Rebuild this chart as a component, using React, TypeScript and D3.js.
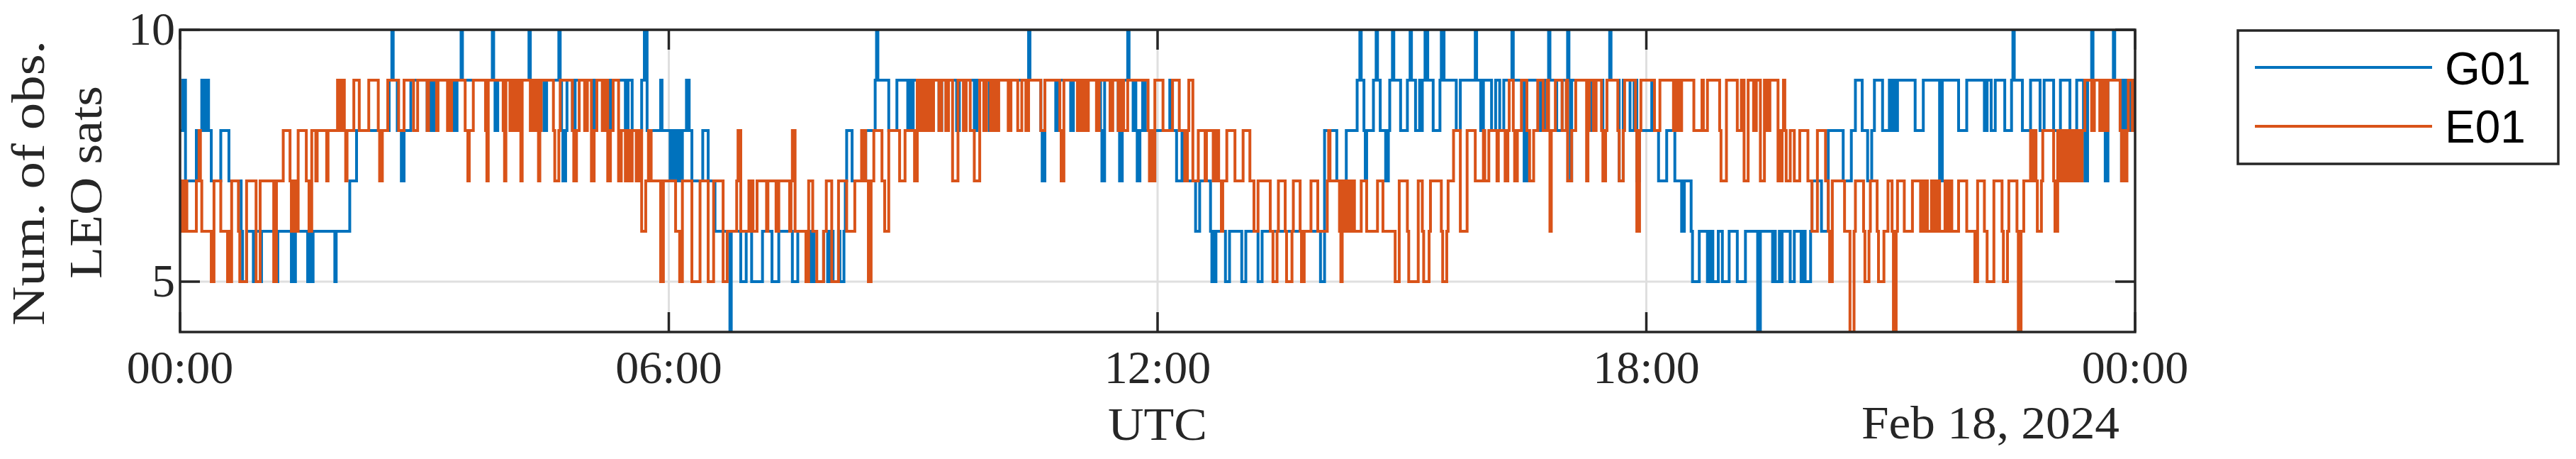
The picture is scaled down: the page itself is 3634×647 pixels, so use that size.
import React from 'react';
import * as d3 from 'd3';

const W = 3634;
const H = 647;

const timeTicks = [0, 360, 720, 1080, 1440];
const timeTickLabels = ['00:00', '06:00', '12:00', '18:00', '00:00'];
const yTicks = [5, 10];
const yTickLabels = ['5', '10'];
const seriesNames = ['G01', 'E01'];
const seriesColors = ['#0072BD', '#D95319'];
const xLabel = 'UTC';
const dateLabel = 'Feb 18, 2024';
const yLabelLines = ['Num. of obs.', 'LEO sats'];

// [minute of day, number of observed LEO satellites]
const g01: number[][] = [
  [0,8],[2,9],[4,7],[12,8],[13,7],[14,8],[16,9],[18,8],[19,9],[21,8],[23,7],[30,8],[36,7],[45,6],[46,5],[49,6],[54,5],[55,6],[59,5],[60,6],[71,5],[72,6],[82,5],[83,6],[84,5],[85,6],[94,5],[95,6],[97,5],[98,6],[114,5],[115,6],[125,7],[130,8],[154,9],[156,10],[157,9],[160,8],[163,7],[165,8],[170,9],[182,8],[183,9],[185,8],[186,9],[188,8],[189,9],[202,8],[204,9],[207,10],[208,9],[230,10],[231,9],[232,8],[234,9],[257,10],[258,9],[268,8],[270,9],[279,10],[280,9],[281,8],[282,7],[284,8],[285,9],
  [289,8],[291,9],[304,8],[306,9],[316,8],[318,9],[328,8],[330,9],[333,8],[340,9],[342,10],[344,8],[354,9],[355,8],[361,7],[362,8],[364,7],[366,8],[368,7],[370,8],[373,9],[375,8],[377,7],[385,8],[389,7],[394,6],[405,4],[406,6],[413,5],[417,6],[421,5],[429,6],[436,5],[441,6],[451,5],[455,6],[463,5],[465,6],[467,5],[474,6],[477,5],[479,6],[481,5],[485,6],[486,5],[489,6],[490,7],[491,8],[495,7],[505,8],[512,9],[513,10],[514,9],[522,8],[528,9],[536,8],[537,9],[538,8],[540,9],[546,8],[552,9],[559,8],[561,9],[572,8],[574,9],[585,8],[587,9],[596,8],
  [599,9],[601,8],[602,9],[625,10],[626,9],[634,8],[635,7],[637,9],[645,8],[647,9],[656,8],[658,9],[678,8],[679,7],[681,9],[691,8],[692,7],[694,9],[698,10],[699,9],[702,8],[703,9],[704,8],[705,7],[707,8],[709,9],[711,8],[715,7],[718,8],[729,9],[731,8],[734,7],[738,8],[740,7],[748,6],[751,7],[759,6],[760,5],[761,6],[762,5],[763,6],[770,5],[773,6],[782,5],[785,6],[794,5],[797,6],[840,5],[843,8],[852,7],[859,8],[867,9],[869,10],[870,9],[872,8],[873,7],[874,8],[879,9],[881,10],[882,9],[884,8],[888,7],[890,8],[891,9],[893,10],[894,9],[899,8],[904,9],[906,10],[907,9],[910,8],
  [913,9],[914,8],[915,9],[917,10],[919,9],[923,8],[928,9],[929,10],[931,9],[940,8],[943,9],[954,10],[955,9],[958,8],[960,9],[966,8],[969,9],[972,8],[975,9],[981,10],[982,9],[990,7],[992,9],[1002,8],[1005,9],[1008,10],[1009,9],[1014,8],[1018,9],[1022,10],[1023,9],[1024,7],[1025,9],[1039,8],[1042,9],[1048,8],[1051,9],[1053,10],[1054,9],[1060,7],[1063,9],[1068,8],[1071,9],[1073,7],[1075,8],[1084,9],[1086,8],[1089,7],[1095,8],[1101,7],[1106,6],[1108,7],[1113,6],[1114,5],[1119,6],[1125,5],[1127,6],[1129,5],[1133,6],[1136,5],[1141,6],[1147,5],[1153,6],[1162,4],[1164,6],[1173,5],[1174,6],[1175,5],
  [1178,6],[1179,5],[1180,6],[1186,5],[1189,6],[1194,5],[1196,6],[1197,5],[1201,6],[1202,7],[1209,6],[1214,8],[1225,7],[1231,8],[1234,9],[1239,8],[1243,7],[1246,8],[1248,9],[1254,8],[1259,9],[1261,8],[1262,9],[1263,8],[1265,9],[1278,8],[1284,9],[1296,7],[1298,9],[1310,8],[1316,9],[1329,8],[1331,9],[1334,8],[1337,9],[1344,8],[1349,9],[1350,10],[1351,9],[1357,8],[1363,9],[1370,8],[1373,9],[1380,8],[1385,9],[1392,8],[1397,9],[1402,8],[1403,7],[1405,9],[1408,10],[1409,9],[1417,8],[1418,7],[1420,9],[1424,10],[1425,9],[1429,8],[1430,7],[1431,9],[1433,8],[1434,9],[1435,8],[1437,9],
];

const e01: number[][] = [
  [0,7],[1,6],[2,7],[3,6],[4,7],[5,6],[12,7],[14,8],[15,7],[16,6],[23,5],[25,7],[30,6],[35,5],[36,6],[37,5],[38,7],[43,6],[44,5],[49,7],[56,5],[59,7],[69,5],[71,7],[76,8],[81,7],[82,6],[83,7],[84,6],[85,7],[86,6],[87,8],[93,7],[95,6],[97,8],[100,7],[101,8],[108,7],[109,8],[116,9],[117,8],[118,9],[119,8],[120,9],[121,8],[122,7],[123,8],[128,9],[132,8],[139,9],[146,8],[147,7],[149,8],[153,9],[161,8],[165,9],[172,8],[175,9],[182,8],[183,9],[189,8],[190,9],[197,8],[198,9],[199,8],[200,9],[210,8],[212,7],[213,8],[216,9],[225,8],[226,7],[227,9],[238,8],[239,7],[240,9],[243,8],[244,9],[246,8],[247,9],[249,8],[250,9],[251,7],[252,9],[258,8],[259,9],[261,8],[262,9],[264,7],[265,8],[266,9],[275,8],[276,7],[279,8],[280,9],
  [289,8],[290,7],[292,8],[294,9],[298,8],[300,9],[303,7],[305,8],[307,9],[311,8],[313,9],[315,7],[317,8],[319,9],[323,7],[325,8],[328,7],[330,8],[332,7],[333,8],[336,7],[338,8],[340,6],[343,7],[345,8],[347,7],[354,5],[356,7],[365,6],[368,5],[370,7],[377,5],[383,7],[389,5],[393,7],[400,5],[403,6],[410,7],[411,8],[413,6],[419,7],[420,6],[421,7],[422,6],[425,7],[432,6],[433,7],[439,6],[441,7],[449,6],[450,7],[451,8],[453,6],[461,5],[463,7],[466,6],[469,5],[474,6],[476,7],[480,5],[485,7],[491,6],[497,7],[502,8],[503,7],[504,8],[505,7],[507,5],[509,7],[511,8],[517,7],[519,6],[522,8],[530,7],[534,8],[541,7],[543,9],[545,8],[547,9],[549,8],[551,9],[553,8],[555,9],[559,8],[561,9],[564,8],[566,9],[569,7],[573,9],[577,8],[579,9],[582,8],[585,7],[589,9],[592,8],[594,9],[597,8],
  [599,9],[600,8],[601,9],[602,8],[603,9],[610,8],[612,9],[617,8],[620,9],[623,8],[625,9],[634,8],[637,9],[648,8],[649,7],[651,9],[661,8],[662,9],[664,8],[666,9],[668,8],[669,9],[675,8],[677,9],[685,8],[687,9],[691,8],[693,9],[695,8],[698,9],[713,8],[714,7],[716,8],[717,7],[718,9],[724,8],[731,9],[736,8],[740,7],[742,8],[743,9],[746,7],[750,8],[755,7],[756,8],[761,7],[762,8],[763,7],[764,8],[765,7],[767,6],[768,7],[771,8],[777,7],[783,8],[788,7],[791,6],[794,7],[803,6],[805,5],[808,6],[809,7],[814,6],[815,5],[819,6],[820,7],[825,6],[826,5],[828,6],[833,7],[838,6],[845,7],[846,8],[847,7],[854,6],[855,5],[856,7],[857,6],[858,7],[859,6],[860,7],[862,6],[863,7],[865,6],[870,7],[874,6],[882,7],[886,6],[895,5],[898,7],[904,6],[905,5],
  [912,7],[915,6],[916,5],[920,6],[921,7],[929,6],[930,5],[933,6],[934,7],[938,8],[943,6],[948,8],[954,7],[960,8],[961,7],[964,8],[970,7],[971,8],[976,7],[978,8],[979,9],[982,8],[983,7],[985,8],[988,9],[992,8],[994,7],[997,8],[1000,9],[1004,8],[1007,9],[1008,8],[1009,6],[1010,8],[1013,9],[1018,8],[1021,9],[1022,7],[1025,8],[1028,9],[1036,7],[1037,8],[1038,9],[1041,8],[1043,9],[1047,8],[1048,7],[1050,8],[1051,9],[1059,8],[1060,7],[1063,8],[1064,9],[1072,8],[1073,6],[1075,8],[1076,9],[1086,8],[1090,9],[1100,8],[1102,9],[1104,8],[1106,9],[1115,8],[1121,9],[1122,8],[1125,9],[1134,8],[1135,7],[1139,9],[1147,8],[1150,9],[1152,7],[1155,9],[1159,8],[1161,9],[1164,7],[1167,9],[1168,8],[1169,9],[1170,8],[1171,9],[1177,7],
  [1178,8],[1179,7],[1180,8],[1181,9],[1182,8],[1183,7],[1186,8],[1189,7],[1193,8],[1199,7],[1202,6],[1206,8],[1212,7],[1214,6],[1215,5],[1217,7],[1226,6],[1230,4],[1233,6],[1234,7],[1240,6],[1241,5],[1244,6],[1245,7],[1250,6],[1251,5],[1255,6],[1258,7],[1261,6],[1262,4],[1264,6],[1265,7],[1270,6],[1276,7],[1282,6],[1283,7],[1284,6],[1285,7],[1287,6],[1290,7],[1291,6],[1292,7],[1294,6],[1295,7],[1296,6],[1300,7],[1301,6],[1302,7],[1303,6],[1304,7],[1305,6],[1310,7],[1316,6],[1322,5],[1324,7],[1329,6],[1331,5],[1336,7],[1342,6],[1343,5],[1346,6],[1347,7],[1353,6],[1354,4],[1356,6],[1358,7],[1363,8],[1364,7],[1365,8],[1367,7],[1368,6],[1371,7],[1372,8],[1380,7],[1381,6],[1383,8],[1385,7],[1386,8],[1388,7],[1390,8],[1392,7],[1394,8],[1396,7],[1397,8],[1399,7],[1401,8],[1403,9],[1408,8],[1410,9],[1414,8],[1415,9],[1416,8],[1418,9],[1419,8],[1420,9],[1429,8],[1430,7],[1432,8],[1433,7],[1434,8],[1435,9],[1438,8],[1439,9],
];

const allSeries = [g01, e01];

export default function App() {
  const left = 254, right = 3012, top = 42, bottom = 468;
  const x = d3.scaleLinear().domain([0, 1440]).range([left, right]);
  const y = d3.scaleLinear().domain([4, 10]).range([bottom, top]);
  const line = d3
    .line<number[]>()
    .x((d) => x(d[0]))
    .y((d) => y(d[1]))
    .curve(d3.curveStepAfter);
  const extend = (s: number[][]) => [...s, [1440, s[s.length - 1][1]]];
  const axisColor = '#262626';
  const serif = '"Liberation Serif", "DejaVu Serif", serif';
  const sans = '"Liberation Sans", Arial, sans-serif';
  const tickLen = 28;
  const fs = 66;

  return (
    <svg
      width={W}
      height={H}
      viewBox={`0 0 ${W} ${H}`}
      style={{ position: 'absolute', left: 0, top: 0, background: '#fff' }}
    >
      <rect x={0} y={0} width={W} height={H} fill="#fff" />
      <defs>
        <clipPath id="plotclip">
          <rect x={left} y={top} width={right - left} height={bottom - top} />
        </clipPath>
      </defs>
      {/* grid */}
      <g stroke="#dfdfdf" strokeWidth={3}>
        {timeTicks.slice(1, -1).map((t, i) => (
          <line key={'gx' + i} x1={x(t)} x2={x(t)} y1={top} y2={bottom} />
        ))}
        {yTicks.map((v, i) => (
          <line key={'gy' + i} x1={left} x2={right} y1={y(v)} y2={y(v)} />
        ))}
      </g>
      {/* data */}
      <g clipPath="url(#plotclip)" fill="none" strokeWidth={4} strokeLinejoin="miter" strokeLinecap="butt">
        {allSeries.map((s, i) => (
          <path key={'s' + i} d={line(extend(s)) || ''} stroke={seriesColors[i]} />
        ))}
      </g>
      {/* axes box and ticks */}
      <g stroke={axisColor} strokeWidth={3.5} fill="none">
        <rect x={left} y={top} width={right - left} height={bottom - top} />
        {timeTicks.map((t, i) => (
          <g key={'tx' + i}>
            <line x1={x(t)} x2={x(t)} y1={bottom} y2={bottom - tickLen} />
            <line x1={x(t)} x2={x(t)} y1={top} y2={top + tickLen} />
          </g>
        ))}
        {yTicks.map((v, i) => (
          <g key={'ty' + i}>
            <line x1={left} x2={left + tickLen} y1={y(v)} y2={y(v)} />
            <line x1={right} x2={right - tickLen} y1={y(v)} y2={y(v)} />
          </g>
        ))}
      </g>
      {/* tick labels */}
      <g fill={axisColor} fontFamily={serif} fontSize={fs}>
        {timeTicks.map((t, i) => (
          <text key={'lx' + i} x={x(t)} y={540} textAnchor="middle">
            {timeTickLabels[i]}
          </text>
        ))}
        {yTicks.map((v, i) => (
          <text key={'ly' + i} x={247} y={y(v) + 21} textAnchor="end">
            {yTickLabels[i]}
          </text>
        ))}
        <text x={(left + right) / 2} y={620} textAnchor="middle" textLength={140} lengthAdjust="spacingAndGlyphs">
          {xLabel}
        </text>
        <text x={2626} y={618} textLength={364} lengthAdjust="spacingAndGlyphs">
          {dateLabel}
        </text>
        <text
          transform={`translate(62, 258) rotate(-90)`}
          textAnchor="middle"
          textLength={402}
          lengthAdjust="spacingAndGlyphs"
        >
          {yLabelLines[0]}
        </text>
        <text
          transform={`translate(143, 257) rotate(-90)`}
          textAnchor="middle"
          textLength={272}
          lengthAdjust="spacingAndGlyphs"
        >
          {yLabelLines[1]}
        </text>
      </g>
      {/* legend */}
      <g>
        <rect x={3157} y={43} width={452} height={188} fill="#fff" stroke={axisColor} strokeWidth={3.5} />
        {seriesNames.map((n, i) => (
          <g key={'lg' + i}>
            <line x1={3181} x2={3431} y1={95 + i * 83} y2={95 + i * 83} stroke={seriesColors[i]} strokeWidth={4} />
            <text x={3449} y={119 + i * 82} fontFamily={sans} fontSize={64} fill="#000">
              {n}
            </text>
          </g>
        ))}
      </g>
    </svg>
  );
}
